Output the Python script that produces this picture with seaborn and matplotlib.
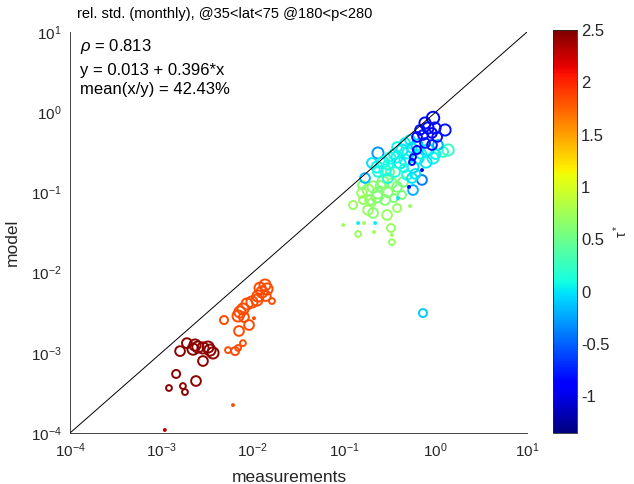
import numpy as np
import pandas as pd
import matplotlib
matplotlib.use("Agg")
import matplotlib.pyplot as plt
import seaborn as sns
from matplotlib.colors import Normalize
from matplotlib.ticker import LogLocator, FixedLocator, NullFormatter

# ---------------- data ----------------
# green cluster
meas_green = [0.317, 0.207, 0.182, 0.234, 0.157, 0.266, 0.333, 0.379, 0.440, 0.192,
              0.161, 0.125, 0.182, 0.207, 0.294, 0.379, 0.229, 0.157, 0.280, 0.429,
              0.525, 0.0973, 0.165, 0.212, 0.333, 0.142, 0.325, 0.333,
              0.25, 0.30, 0.20, 0.35]
model_green = [0.180, 0.117, 0.107, 0.0984, 0.0984, 0.135, 0.131, 0.117, 0.135, 0.0804,
               0.0804, 0.0696, 0.0603, 0.0554, 0.0523, 0.0638, 0.0877, 0.124, 0.0804, 0.0929,
               0.0676, 0.0392, 0.0415, 0.0321, 0.0294, 0.0303, 0.0360, 0.0240,
               0.12, 0.10, 0.075, 0.085]
tau_green = [0.45, 0.65, 0.7, 0.65, 0.7, 0.6, 0.6, 0.6, 0.55, 0.65,
             0.7, 0.7, 0.7, 0.65, 0.7, 0.7, 0.6, 0.65, 0.6, 0.55,
             0.7, 0.75, 0.75, 0.75, 0.75, 0.7, 0.7, 0.7,
             0.6, 0.65, 0.7, 0.6]
n_green = [3, 5, 5, 5, 4, 5, 4, 4, 4, 4,
           3, 3, 4, 4, 4, 3, 5, 3, 4, 3,
           1, 1, 1, 1, 1, 2, 3, 2,
           4, 4, 3, 3]

# cyan cluster
meas_cyan = [0.234, 0.169, 0.201, 0.463, 0.429, 0.499, 0.379, 0.317, 0.266, 0.229,
             0.408, 0.566, 0.710, 1.37, 1.21, 0.937, 0.486, 0.360, 0.552, 0.566,
             0.525, 0.626, 0.379, 0.302, 0.234, 0.388, 0.142, 0.218, 0.280, 0.463,
             0.642, 0.826, 1.06, 0.785, 0.728,
             0.35, 0.55, 0.70, 0.45, 0.60, 0.30, 1.0]
model_cyan = [0.310, 0.151, 0.233, 0.413, 0.338, 0.310, 0.276, 0.268, 0.239, 0.207,
              0.233, 0.207, 0.143, 0.338, 0.319, 0.268, 0.165, 0.180, 0.151, 0.107,
              0.450, 0.390, 0.368, 0.220, 0.180, 0.085, 0.0415, 0.0415, 0.190, 0.254,
              0.268, 0.338, 0.390, 0.239, 0.00313,
              0.30, 0.36, 0.30, 0.20, 0.17, 0.15, 0.30]
tau_cyan = [-0.3, -0.15, 0.0, 0.05, 0.0, 0.05, 0.05, 0.1, 0.1, 0.05,
            0.0, -0.1, -0.4, 0.25, 0.2, 0.05, 0.1, 0.15, 0.0, -0.2,
            0.0, -0.1, 0.05, 0.1, 0.15, 0.0, 0.05, 0.05, 0.1, 0.05,
            0.0, -0.05, -0.2, 0.0, -0.1,
            0.05, 0.0, 0.05, 0.1, 0.0, 0.15, 0.05]
n_cyan = [5, 4, 4, 4, 5, 5, 5, 5, 5, 5,
          5, 5, 4, 5, 4, 5, 4, 4, 4, 4,
          4, 5, 4, 4, 4, 1, 1, 1, 5, 5,
          5, 5, 4, 5, 3,
          4, 4, 4, 3, 4, 4, 4]

# blue cluster
meas_blue = [0.937, 0.766, 0.826, 0.985, 1.27, 0.675, 0.728, 0.913, 1.04, 0.626,
             0.913, 0.766, 0.626, 0.566, 0.552, 0.710, 0.512]
model_blue = [0.847, 0.733, 0.635, 0.635, 0.600, 0.600, 0.520, 0.551, 0.491, 0.491,
              0.390, 0.413, 0.338, 0.276, 0.239, 0.190, 0.117]
tau_blue = [-0.85, -0.85, -0.85, -0.8, -0.8, -0.8, -0.8, -0.85, -0.8, -0.85,
            -0.8, -0.8, -0.85, -0.9, -0.9, -1.0, -1.0]
n_blue = [6, 5, 5, 5, 5, 4, 4, 4, 4, 4,
          4, 4, 3, 2, 2, 1, 1]

# orange-red cluster
meas_orange = [1.36e-2, 1.43e-2, 1.26e-2, 1.14e-2, 1.11e-2, 9.8e-3, 8.65e-3, 7.8e-3, 7.24e-3, 6.9e-3,
               8.0e-3, 9.1e-3, 7.06e-3, 4.84e-3, 1.62e-2, 7.8e-3, 6.9e-3, 6.4e-3, 5.35e-3, 6.07e-3,
               1.2e-2, 1.39e-2, 1.03e-2]
model_orange = [7.0e-3, 6.25e-3, 5.73e-3, 5.1e-3, 4.55e-3, 4.3e-3, 4.06e-3, 3.51e-3, 3.23e-3, 2.88e-3,
                2.79e-3, 2.22e-3, 1.87e-3, 2.56e-3, 4.42e-3, 1.32e-3, 1.15e-3, 1.05e-3, 1.08e-3, 2.23e-4,
                6.4e-3, 5.1e-3, 2.7e-3]
tau_orange = [1.85] * 23
n_orange = [5, 5, 5, 5, 5, 5, 5, 5, 5, 5,
            4, 4, 4, 3, 2, 2, 2, 3, 2, 1,
            5, 4, 1]

# dark-red cluster
meas_red = [1.60e-3, 1.90e-3, 2.22e-3, 2.51e-3, 2.85e-3, 3.24e-3, 3.40e-3, 3.67e-3, 2.85e-3, 1.45e-3,
            2.39e-3, 1.72e-3, 1.21e-3, 1.81e-3, 1.09e-3, 2.33e-3]
model_red = [1.05e-3, 1.32e-3, 1.11e-3, 1.18e-3, 1.15e-3, 1.18e-3, 1.08e-3, 0.995e-3, 0.79e-3, 0.545e-3,
             0.445e-3, 0.385e-3, 0.364e-3, 0.324e-3, 1.09e-4, 1.25e-3]
tau_red = [2.45, 2.45, 2.45, 2.45, 2.45, 2.45, 2.45, 2.45, 2.45, 2.45,
           2.45, 2.45, 2.45, 2.45, 2.3, 2.45]
n_red = [4, 4, 5, 5, 5, 5, 5, 5, 4, 3,
         4, 2, 2, 2, 1, 5]

title = "rel. std. (monthly), @35<lat<75 @180<p<280"
stats = [r"$\mathit{\rho}$ = 0.813", "y = 0.013 + 0.396*x", "mean(x/y) = 42.43%"]
decades = [1e-4, 1e-3, 1e-2, 1e-1, 1e0, 1e1]
cbar_ticks = [-1, -0.5, 0, 0.5, 1, 1.5, 2, 2.5]
tau_range = (-1.35, 2.5)

# ---------------- figure ----------------
sns.set_theme(style="white")
plt.rcParams['font.family'] = ['Liberation Sans', 'DejaVu Sans']
plt.rcParams['mathtext.fontset'] = 'custom'
plt.rcParams['mathtext.rm'] = 'Liberation Sans'
plt.rcParams['mathtext.it'] = 'Liberation Sans:italic'
plt.rcParams['mathtext.default'] = 'regular'
plt.rcParams['axes.unicode_minus'] = False

df = pd.DataFrame({
    "measurements": meas_green + meas_cyan + meas_blue + meas_orange + meas_red,
    "model": model_green + model_cyan + model_blue + model_orange + model_red,
    "tau": tau_green + tau_cyan + tau_blue + tau_orange + tau_red,
    "n": n_green + n_cyan + n_blue + n_orange + n_red,
})

jet = matplotlib.colormaps["jet"]
fig = plt.figure(figsize=(6.34, 4.84), dpi=100)
ax = fig.add_axes([70/634, 51/484, 457/634, 401/484])
norm = Normalize(*tau_range)
ax.set_xscale("log")
ax.set_yscale("log")

sns.scatterplot(data=df, x="measurements", y="model", hue="tau", size="n",
                palette=jet, hue_norm=norm, sizes=(2, 80), size_norm=(1, 6),
                legend=False, linewidth=1.4, ax=ax)
pc = ax.collections[0]
pc.set_edgecolors(pc.get_facecolors())
pc.set_facecolors("none")

ax.plot([decades[0], decades[-1]], [decades[0], decades[-1]], color="black", lw=0.7)

ax.set_xlim(decades[0], decades[-1])
ax.set_ylim(decades[0], decades[-1])
for axis in (ax.xaxis, ax.yaxis):
    axis.set_major_locator(FixedLocator(decades))
    axis.set_minor_locator(LogLocator(base=10, subs=np.arange(2, 10), numticks=20))
    axis.set_minor_formatter(NullFormatter())
ax.set_xticks(decades)
ax.set_xticklabels([r"$10^{%d}$" % int(np.log10(d)) for d in decades])
ax.set_yticks(decades)
ax.set_yticklabels([r"$10^{%d}$" % int(np.log10(d)) for d in decades])

grey = "#262626"
for s in ("top", "right"):
    ax.spines[s].set_visible(False)
for s in ("left", "bottom"):
    ax.spines[s].set_color(grey)
    ax.spines[s].set_linewidth(0.6)
ax.tick_params(which="both", direction="in", colors=grey, width=0.6,
               labelsize=11, top=False, right=False)
ax.tick_params(which="major", length=5, pad=6)
ax.tick_params(which="minor", length=3)

ax.set_xlabel("measurements", fontsize=12.5, color=grey)
ax.set_ylabel("model", fontsize=12.5, color=grey)
ax.xaxis.set_label_coords(0.481, -0.092)
ax.yaxis.set_label_coords(-0.11, 0.476)

fig.text(77/634, 1 - 14/484, title, fontsize=10.5, color="black", va="center", ha="left")
for txt, yy in zip(stats, [47, 70, 90]):
    fig.text(80/634, 1 - yy/484, txt, fontsize=12, color="black", va="center", ha="left")

# colorbar
cax = fig.add_axes([553/634, 51/484, 24/634, 403/484])
sm = matplotlib.cm.ScalarMappable(norm=norm, cmap=jet)
cb = fig.colorbar(sm, cax=cax)
cb.set_ticks(cbar_ticks)
cb.set_ticklabels(["%g" % t for t in cbar_ticks])
cb.outline.set_edgecolor(grey)
cb.outline.set_linewidth(0.6)
cax.tick_params(direction="in", length=4, width=0.6, colors=grey, labelsize=12, pad=3)
cb.set_label(r"$\tau^*$", rotation=90, fontsize=10, color=grey, labelpad=1)

fig.savefig("out.png", dpi=100)
